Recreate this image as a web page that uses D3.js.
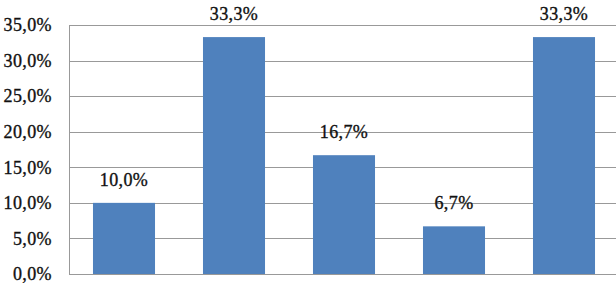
<html>
  <head>
  <meta charset="UTF-8">
  <script src="https://cdn.jsdelivr.net/npm/d3@7"></script>
  <style>
    body {
      margin: 0;
      background: #FFF;
    }
    .grid line {
      stroke: #999;
      stroke-width: 1;
      shape-rendering: crispEdges;
    }
  </style>
  </head>
  <body>
    <script>

      // Categories (no visible names in the chart) and their shares in %
      let categories = ["1", "2", "3", "4", "5"];
      let shares = [10.0, 33.3, 16.7, 6.7, 33.3];

      // Y axis tick values
      let yTicks = [0, 5, 10, 15, 20, 25, 30, 35];

      let data = categories.map(function(c, i) { return {cat: c, value: shares[i]}; });

      var font = "Liberation Serif";

      var margin = {top: 25, right: -3, bottom: 9, left: 69},
          width = 616 - margin.left - margin.right,
          height = 283 - margin.top - margin.bottom;

      var x = d3.scaleBand()
          .domain(categories)
          .range([0, width])
          .paddingInner(0.436)
          .paddingOuter(0.218);

      var y = d3.scaleLinear()
          .domain([0, 35])
          .range([height, 0]);

      // 12,3% style labels
      var pct = function(d) { return d3.format(".1f")(d).replace(".", ",") + "%"; };

      var svg = d3.select("body")
        .append("svg")
          .attr("width", 616)
          .attr("height", 283)
        .append("g")
          .attr("transform", "translate(" + margin.left + "," + margin.top + ")");

      // Horizontal gridlines
      svg.append("g")
          .attr("class", "grid")
        .selectAll("line")
          .data(yTicks)
        .enter().append("line")
          .attr("x1", 0)
          .attr("x2", width)
          .attr("y1", function(d) { return Math.round(y(d)) + 0.5; })
          .attr("y2", function(d) { return Math.round(y(d)) + 0.5; });

      // Left border of plot area
      svg.append("g")
          .attr("class", "grid")
        .append("line")
          .attr("x1", 0.5).attr("x2", 0.5)
          .attr("y1", y(35)).attr("y2", y(0));

      // Y axis labels
      var yAxis = d3.axisLeft(y)
          .tickValues(yTicks)
          .tickSize(0)
          .tickPadding(17)
          .tickFormat(pct);

      svg.append("g")
          .attr("class", "y axis")
          .call(yAxis)
          .attr("font-family", font)
          .attr("font-size", 18)
          .call(function(g) {
            g.select(".domain").remove();
            g.selectAll("text")
              .attr("fill", "#111")
              .attr("stroke", "#111")
              .attr("stroke-width", 0.35)
              .attr("letter-spacing", 0.4);
          });

      // Bars
      svg.selectAll(".bar")
          .data(data)
        .enter().append("rect")
          .attr("class", "bar")
          .attr("x", function(d) { return x(d.cat); })
          .attr("width", x.bandwidth())
          .attr("y", function(d) { return y(d.value); })
          .attr("height", function(d) { return y(0) - y(d.value); })
          .attr("fill", "#4F81BD");

      // Value labels above bars
      svg.selectAll(".label")
          .data(data)
        .enter().append("text")
          .attr("class", "label")
          .attr("font-family", font)
          .attr("font-size", 18)
          .attr("fill", "#111")
          .attr("stroke", "#111")
          .attr("stroke-width", 0.35)
          .attr("letter-spacing", 0.4)
          .attr("text-anchor", "middle")
          .attr("x", function(d) { return x(d.cat) + x.bandwidth() / 2; })
          .attr("y", function(d) { return y(d.value) - 17; })
          .text(function(d) { return pct(d.value); });

    </script>
  </body>
</html>
